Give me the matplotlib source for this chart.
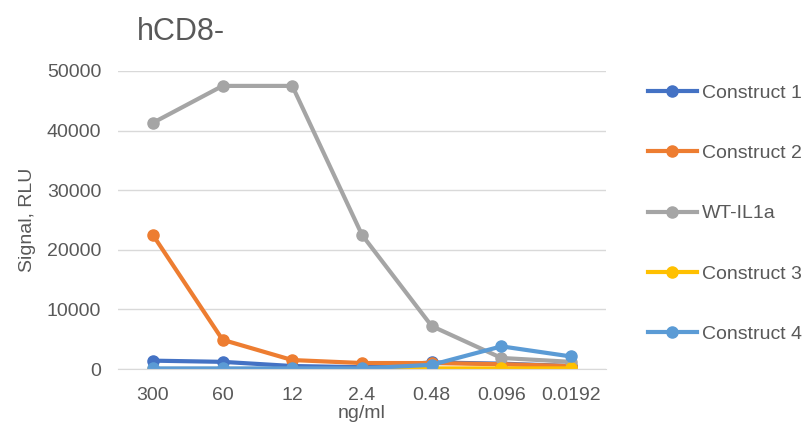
import matplotlib.pyplot as plt

# Data
doses = ['300', '60', '12', '2.4', '0.48', '0.096', '0.0192']
construct1 = [1400, 1200, 500, 300, 1100, 900, 500]
construct2 = [22500, 4900, 1500, 1000, 1000, 800, 500]
wt_il1a = [41300, 47500, 47500, 22500, 7200, 1850, 1200]
construct3 = [0, 0, 0, 0, 100, 100, 100]
construct4 = [100, 100, 100, 100, 700, 3800, 2100]

series = [
    ('Construct 1', construct1, '#4472C4'),
    ('Construct 2', construct2, '#ED7D31'),
    ('WT-IL1a', wt_il1a, '#A5A5A5'),
    ('Construct 3', construct3, '#FFC000'),
    ('Construct 4', construct4, '#5B9BD5'),
]

plt.rcParams['font.family'] = ['Liberation Sans', 'DejaVu Sans']
text_color = '#595959'

fig = plt.figure(figsize=(8.11, 4.40), dpi=100)
ax = fig.add_axes([118 / 811, 1 - 369 / 440, (606 - 118) / 811, (369 - 71) / 440])

x = range(len(doses))
for name, vals, col in series:
    ax.plot(x, vals, color=col, linewidth=3, marker='o', markersize=8, label=name)

ax.set_ylim(0, 50000)
ax.set_xlim(-0.5, len(doses) - 0.5)
ax.set_yticks(range(0, 50001, 10000))
ax.set_xticks(list(x))
ax.set_xticklabels(doses)
ax.tick_params(length=0, labelsize=14, colors=text_color)
ax.tick_params(axis='x', pad=13)
ax.tick_params(axis='y', pad=12)

# Grid and spines
ax.grid(axis='y', color='#D9D9D9', linewidth=1)
ax.set_axisbelow(True)
for s in ['top', 'right', 'left']:
    ax.spines[s].set_visible(False)
ax.spines['bottom'].set_color('#D9D9D9')

ax.set_xlabel('ng/ml', fontsize=14, color=text_color, labelpad=1)
ax.set_ylabel('Signal, RLU', fontsize=14, color=text_color, labelpad=8)
fig.text(137 / 811, 1 - 32 / 440, 'hCD8-', fontsize=22, color=text_color, va='center')

ax.legend(loc='upper left', bbox_to_anchor=(1.05, 1.015), frameon=False,
          fontsize=14, labelcolor=text_color, labelspacing=2.2,
          handlelength=2.5, handletextpad=0.26)

fig.savefig('out.png', dpi=100)
